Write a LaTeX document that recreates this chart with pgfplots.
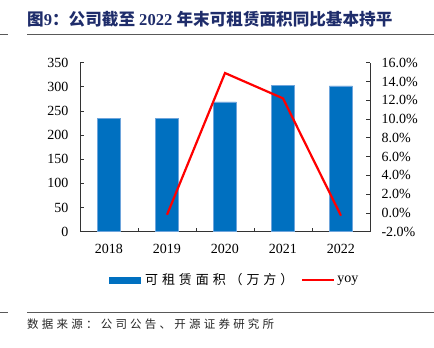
\documentclass[border=0pt]{standalone}
\usepackage{fontspec}
\usepackage{pgfplots}
\pgfplotsset{compat=1.18}
\setmainfont{Liberation Serif}
\newfontfamily\cjk{Noto Sans CJK SC}
\newfontfamily\cjksp[LetterSpace=28]{Noto Sans CJK SC}
\newfontfamily\cjkleg[LetterSpace=30]{Noto Sans CJK SC}
\definecolor{barblue}{RGB}{0,112,192}
\definecolor{baredge}{RGB}{110,165,220}
\definecolor{titleblue}{RGB}{31,45,107}
\definecolor{rulegray}{RGB}{89,89,89}
\begin{document}
\begin{tikzpicture}
\path[use as bounding box] (0,0) rectangle (434pt,348pt);
\node[anchor=base west, inner sep=0, text=titleblue, font=\fontsize{16.6}{18}\selectfont\bfseries] at (27pt,322pt) {{\cjk\bfseries 图}9{\cjk\bfseries ：公司截至} 2022 {\cjk\bfseries 年末可租赁面积同比基本持平}};
\draw[rulegray, line width=0.9pt] (27pt,314pt) -- (434pt,314pt);
\draw[rulegray, line width=0.9pt] (0pt,314pt) -- (8pt,314pt);
\draw[rulegray, line width=0.9pt] (27pt,36pt) -- (434pt,36pt);
\draw[rulegray, line width=0.9pt] (0pt,36pt) -- (8pt,36pt);
\node[anchor=west, inner sep=0, font=\fontsize{11.5}{13}\selectfont\cjksp, text=black!85] at (27pt,24pt) {数据来源：公司公告、开源证券研究所};
\begin{axis}[
  at={(80pt,116.3pt)}, anchor=south west, scale only axis, width=290pt, height=169pt,
  xmin=-0.5, xmax=4.5, ymin=0, ymax=350, ytick={0,50,...,350},
  axis x line*=bottom, axis y line*=left,
  axis line style={black!80, line width=0.8pt},
  xtick={0,...,4}, xticklabels={2018,2019,2020,2021,2022},
  major x tick style={draw=none},
  minor xtick={0.5,1.5,2.5,3.5}, minor tick length=4pt,
  tick align=inside, major tick length=4pt,
  tick style={black!80, line width=0.7pt},
  ticklabel style={font=\fontsize{14}{16}\selectfont},
  yticklabel style={xshift=-8pt},
  xticklabel style={yshift=-9pt},
  /pgf/number format/assume math mode=true,
  clip=false,
]
\addplot[ybar, bar width=23pt, fill=barblue, draw=baredge, line width=0.6pt] coordinates {(0,235) (1,235) (2,269) (3,303) (4,302)};
\end{axis}
\begin{axis}[
  at={(80pt,116.3pt)}, anchor=south west, scale only axis, width=290pt, height=169pt,
  xmin=-0.5, xmax=4.5, ymin=-2, ymax=16, ytick={-2,0,...,16},
  axis y line*=right, axis x line=none,
  axis line style={black!80, line width=0.8pt},
  tick align=inside, major tick length=4pt,
  tick style={black!80, line width=0.7pt},
  ticklabel style={font=\fontsize{14}{16}\selectfont},
  yticklabel={\pgfmathprintnumber[fixed,fixed zerofill,precision=1,assume math mode=true]{\tick}\%},
  yticklabel style={xshift=8pt},
  legend style={at={(0.533,-0.286)}, anchor=center, draw=none, fill=none, legend columns=2,
    font=\fontsize{13}{15}\selectfont\cjkleg, /tikz/every even column/.append style={column sep=6pt}},
  clip=false,
]
\addlegendimage{legend image code/.code={\fill[barblue] (0pt,-3.3pt) rectangle (31pt,3.3pt);}}
\addlegendentry{\hspace{3pt}可租赁面积（万方）}
\addplot[red, line width=2.2pt, legend image code/.code={\draw[red,line width=2pt] (0pt,0pt)--(32pt,0pt);}] coordinates {(1,-0.2) (2,14.9) (3,12.2) (4,-0.3)};
\addlegendentry{\rmfamily\fontsize{14}{16}\selectfont yoy}
\end{axis}
\end{tikzpicture}
\end{document}
